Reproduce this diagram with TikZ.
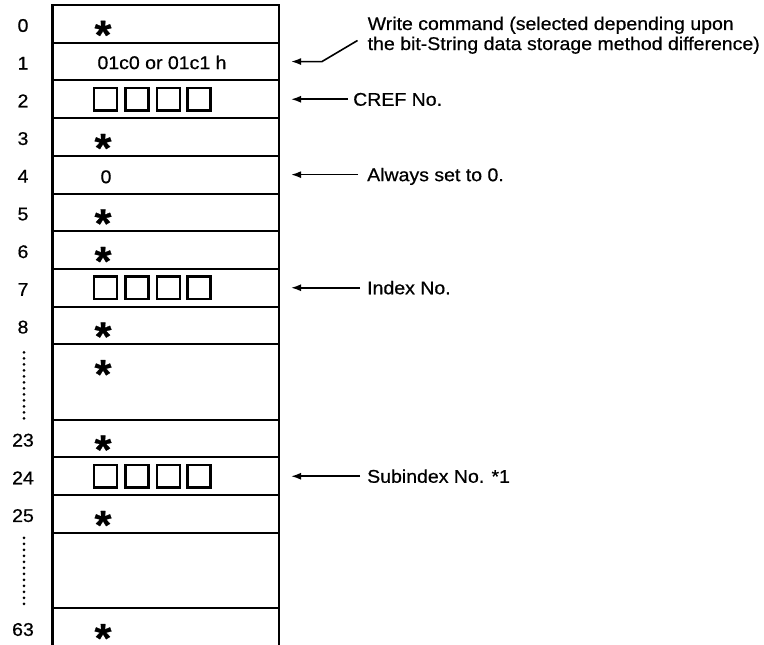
\documentclass[tikz,border=0pt]{standalone}
\usepackage{fontspec}
\setmainfont[FakeStretch=1.06,FakeBold=0.6]{Liberation Sans}
\usetikzlibrary{arrows.meta,calc}
\begin{document}
\begin{tikzpicture}[x=1pt,y=-1pt,
  cell/.style={draw, line width=2pt, minimum width=226.5pt, inner sep=0pt, outer sep=0pt},
  num/.style={font=\fontsize{18.4}{20}\selectfont, inner sep=0pt, text height=13pt, text depth=0pt},
  lbl/.style={num, anchor=west},
  sq/.style={draw, line width=2.2pt, minimum width=23pt, minimum height=22.5pt, inner sep=0pt},
  starmark/.style={font=\fontsize{41}{41}\selectfont\bfseries, inner sep=0pt},
  arr/.style={line width=1.6pt, -{Latex[length=10pt,width=7pt]}},
  dots/.style={line width=3pt, line cap=round, dash pattern=on 0pt off 6pt}]

\useasboundingbox (0,0) rectangle (764,645);

% rows
\foreach \nm/\t/\b in {0/5/42.7, 1/42.7/80.4, 2/80.4/118.1, 3/118.1/155.8, 4/155.8/193.5,
  5/193.5/231.2, 6/231.2/268.9, 7/268.9/306.6, 8/306.6/344.3, 9/344.3/419.7,
  23/419.7/457.4, 24/457.4/495.1, 25/495.1/532.8, 26/532.8/608.2, 63/608.2/647.5} {
  \pgfmathsetmacro\c{(\t+\b)/2}
  \pgfmathsetmacro\h{\b-\t}
  \node[cell, minimum height=\h pt] (r\nm) at (165.75,\c) {};
}

% outer border
\draw[line width=2.8pt] (r0.north west) rectangle (r63.south east);

% row numbers
\foreach \nm in {0,1,2,3,4,5,6,7,8,23,24,25,63}
  \node[num] (n\nm) at ([yshift=-1.5pt]r\nm.center -| 23,0) {\nm};

% dotted continuation marks
\draw[dots] ([yshift=-8pt]r9.north -| 24,0) -- ([yshift=0pt]r9.south -| 24,0);
\draw[dots] ([yshift=-5pt]r26.north -| 24,0) -- ([yshift=-1.5pt]r26.south -| 24,0);

% stars
\foreach \nm in {0,3,5,6,8,9,23,25,63}
  \node[starmark] (s\nm) at ([yshift=-24pt]r\nm.north -| 103,0) {\raisebox{-20pt}[6pt][6pt]{*}};

% squares
\foreach \r in {2,7,24}
  \foreach \i/\x in {1/105.5,2/137,3/168.5,4/199}
    \node[sq] (q\r-\i) at (r\r.center -| \x,0) {};

% texts inside rows
\node[num] (t1) at ([yshift=-1pt]r1.center -| 162,0) {01c0 or 01c1 h};
\node[num] (t4) at ([yshift=-2pt]r4.center -| 106,0) {0};

% annotations
\node[lbl] (wl1) at (367.5,23.5) {Write command (selected depending upon};
\node[lbl] (wl2) at (367.5,43.5) {the bit-String data storage method difference)};
\coordinate (wbend) at ([xshift=43pt]r1.east);
\draw[arr] ([xshift=-10pt,yshift=3pt]wl2.west) -- (wbend) -- ([xshift=12pt]r1.east);

\node[lbl] (cref) at ([xshift=74pt]r2.east) {CREF No.};
\draw[arr] ([xshift=-5pt]cref.west) -- ([xshift=12pt]r2.east);

\node[lbl] (zero) at ([xshift=88pt]r4.east) {Always set to 0.};
\draw[arr] ([xshift=-9pt]zero.west) -- ([xshift=12pt]r4.east);

\node[lbl] (idx) at ([xshift=88pt]r7.east) {Index No.};
\draw[arr] ([xshift=-7pt]idx.west) -- ([xshift=12pt]r7.east);

\node[lbl] (sidx) at ([xshift=88pt]r24.east) {Subindex No. *1};
\draw[arr] ([xshift=-7pt]sidx.west) -- ([xshift=12pt]r24.east);

\end{tikzpicture}
\end{document}
